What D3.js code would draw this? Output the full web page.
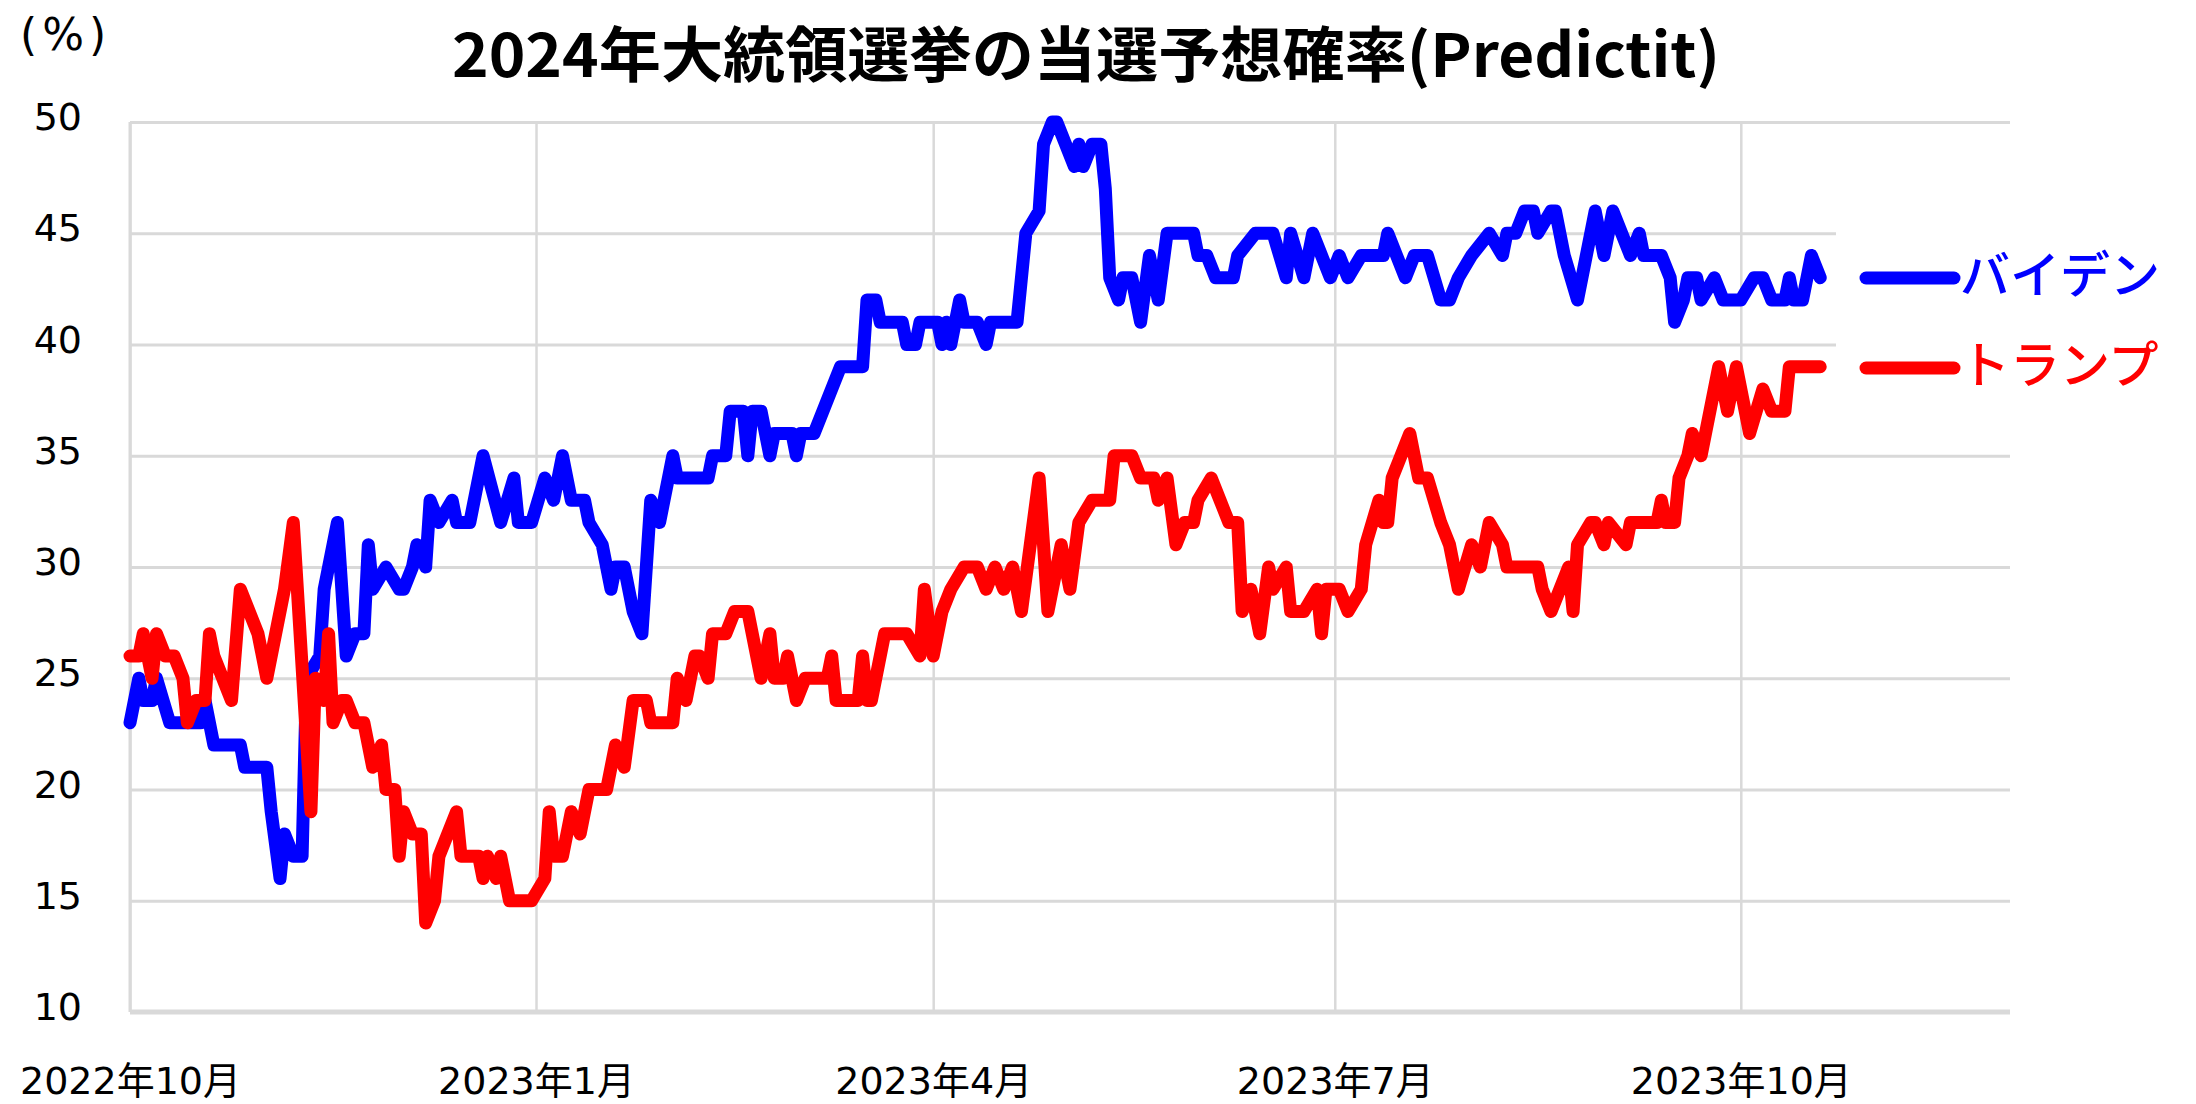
<!DOCTYPE html>
<html><head><meta charset="utf-8">
<script src="https://cdn.jsdelivr.net/npm/d3@7/dist/d3.min.js"></script>
<style>html,body{margin:0;padding:0;background:#fff;}svg{display:block;}</style>
</head><body>
<svg id="c" width="2196" height="1104"></svg>
<script>
const titleText = "2024年大統領選挙の当選予想確率(Predictit)";
const unitLabel = "(%)";
const seriesNames = ["バイデン", "トランプ"];
const seriesColors = ["#0000FF", "#FF0000"];
const yTicks = [10, 15, 20, 25, 30, 35, 40, 45, 50];
const xTickDates = ["2022-10-01", "2023-01-01", "2023-04-01", "2023-07-01", "2023-10-01"];
const xTickLabels = ["2022年10月", "2023年1月", "2023年4月", "2023年7月", "2023年10月"];

const bidenDates = ["2022-10-01","2022-10-03","2022-10-04","2022-10-06","2022-10-07","2022-10-10","2022-10-17","2022-10-18","2022-10-20","2022-10-26","2022-10-27","2022-11-01","2022-11-02","2022-11-04","2022-11-05","2022-11-07","2022-11-09","2022-11-10","2022-11-13","2022-11-14","2022-11-17","2022-11-19","2022-11-21","2022-11-23","2022-11-24","2022-11-25","2022-11-28","2022-12-01","2022-12-02","2022-12-04","2022-12-05","2022-12-07","2022-12-08","2022-12-10","2022-12-13","2022-12-14","2022-12-17","2022-12-20","2022-12-24","2022-12-27","2022-12-28","2022-12-31","2023-01-03","2023-01-05","2023-01-07","2023-01-09","2023-01-12","2023-01-13","2023-01-16","2023-01-18","2023-01-19","2023-01-21","2023-01-23","2023-01-25","2023-01-27","2023-01-29","2023-02-01","2023-02-02","2023-02-09","2023-02-10","2023-02-13","2023-02-14","2023-02-17","2023-02-18","2023-02-19","2023-02-21","2023-02-23","2023-02-24","2023-02-28","2023-03-01","2023-03-02","2023-03-05","2023-03-07","2023-03-09","2023-03-11","2023-03-16","2023-03-17","2023-03-19","2023-03-20","2023-03-25","2023-03-26","2023-03-28","2023-03-29","2023-04-02","2023-04-03","2023-04-04","2023-04-05","2023-04-07","2023-04-08","2023-04-11","2023-04-13","2023-04-14","2023-04-20","2023-04-22","2023-04-25","2023-04-26","2023-04-28","2023-04-29","2023-05-03","2023-05-04","2023-05-05","2023-05-07","2023-05-09","2023-05-10","2023-05-11","2023-05-13","2023-05-14","2023-05-16","2023-05-18","2023-05-20","2023-05-21","2023-05-22","2023-05-24","2023-05-30","2023-05-31","2023-06-02","2023-06-04","2023-06-08","2023-06-09","2023-06-13","2023-06-17","2023-06-20","2023-06-21","2023-06-24","2023-06-26","2023-06-28","2023-06-30","2023-07-02","2023-07-04","2023-07-07","2023-07-12","2023-07-13","2023-07-17","2023-07-19","2023-07-22","2023-07-25","2023-07-27","2023-07-29","2023-08-01","2023-08-05","2023-08-08","2023-08-09","2023-08-11","2023-08-13","2023-08-15","2023-08-16","2023-08-19","2023-08-20","2023-08-22","2023-08-25","2023-08-27","2023-08-29","2023-08-31","2023-09-02","2023-09-04","2023-09-06","2023-09-08","2023-09-09","2023-09-13","2023-09-15","2023-09-16","2023-09-18","2023-09-19","2023-09-21","2023-09-22","2023-09-25","2023-09-27","2023-10-01","2023-10-04","2023-10-06","2023-10-08","2023-10-11","2023-10-12","2023-10-13","2023-10-15","2023-10-17","2023-10-19"];
const bidenValues = [23,25,24,24,25,23,23,24,22,22,21,21,19,16,18,17,17,25,26,29,32,26,27,27,31,29,30,29,29,30,31,30,33,32,33,32,32,35,32,34,32,32,34,33,35,33,33,32,31,29,30,30,28,27,33,32,35,34,34,35,35,37,37,35,37,37,35,36,36,35,36,36,37,38,39,39,42,42,41,41,40,40,41,41,40,41,40,42,41,41,40,41,41,45,46,49,50,50,48,49,48,49,49,47,43,42,43,43,41,44,43,42,45,45,44,44,43,43,44,45,45,43,45,43,45,44,43,44,43,44,44,45,43,44,44,42,42,43,44,45,44,45,45,46,46,45,46,46,44,42,44,46,44,46,45,44,45,44,44,43,41,42,43,43,42,43,42,42,43,43,42,42,43,42,42,44,43];

const trumpDates = ["2022-10-01","2022-10-03","2022-10-04","2022-10-06","2022-10-07","2022-10-09","2022-10-11","2022-10-13","2022-10-14","2022-10-16","2022-10-18","2022-10-19","2022-10-20","2022-10-22","2022-10-24","2022-10-26","2022-10-28","2022-10-30","2022-11-01","2022-11-03","2022-11-05","2022-11-07","2022-11-11","2022-11-12","2022-11-14","2022-11-15","2022-11-16","2022-11-18","2022-11-19","2022-11-21","2022-11-23","2022-11-24","2022-11-25","2022-11-27","2022-11-28","2022-11-30","2022-12-01","2022-12-02","2022-12-04","2022-12-06","2022-12-07","2022-12-09","2022-12-10","2022-12-12","2022-12-14","2022-12-15","2022-12-19","2022-12-20","2022-12-21","2022-12-23","2022-12-24","2022-12-26","2022-12-31","2023-01-03","2023-01-04","2023-01-05","2023-01-07","2023-01-09","2023-01-11","2023-01-13","2023-01-17","2023-01-19","2023-01-21","2023-01-23","2023-01-26","2023-01-27","2023-02-01","2023-02-02","2023-02-04","2023-02-06","2023-02-07","2023-02-09","2023-02-10","2023-02-13","2023-02-15","2023-02-18","2023-02-21","2023-02-23","2023-02-24","2023-02-26","2023-02-27","2023-03-01","2023-03-03","2023-03-08","2023-03-09","2023-03-10","2023-03-15","2023-03-16","2023-03-17","2023-03-18","2023-03-21","2023-03-26","2023-03-29","2023-03-30","2023-04-01","2023-04-03","2023-04-05","2023-04-08","2023-04-11","2023-04-13","2023-04-15","2023-04-17","2023-04-19","2023-04-21","2023-04-25","2023-04-27","2023-04-30","2023-05-02","2023-05-04","2023-05-07","2023-05-11","2023-05-12","2023-05-16","2023-05-18","2023-05-21","2023-05-22","2023-05-24","2023-05-26","2023-05-28","2023-05-30","2023-05-31","2023-06-03","2023-06-05","2023-06-07","2023-06-09","2023-06-10","2023-06-12","2023-06-14","2023-06-16","2023-06-17","2023-06-20","2023-06-21","2023-06-24","2023-06-27","2023-06-28","2023-06-29","2023-07-02","2023-07-04","2023-07-07","2023-07-08","2023-07-11","2023-07-12","2023-07-13","2023-07-14","2023-07-16","2023-07-18","2023-07-20","2023-07-22","2023-07-25","2023-07-27","2023-07-29","2023-08-01","2023-08-03","2023-08-05","2023-08-08","2023-08-09","2023-08-16","2023-08-17","2023-08-19","2023-08-21","2023-08-23","2023-08-24","2023-08-25","2023-08-28","2023-08-29","2023-08-31","2023-09-01","2023-09-05","2023-09-06","2023-09-12","2023-09-13","2023-09-14","2023-09-16","2023-09-17","2023-09-19","2023-09-20","2023-09-22","2023-09-23","2023-09-26","2023-09-28","2023-09-30","2023-10-03","2023-10-06","2023-10-08","2023-10-11","2023-10-12","2023-10-19"];
const trumpValues = [26,26,27,25,27,26,26,25,23,24,24,27,26,25,24,29,28,27,25,27,29,32,19,25,24,27,23,24,24,23,23,22,21,22,20,20,17,19,18,18,14,15,17,18,19,17,17,16,17,16,17,15,15,16,19,17,17,19,18,20,20,22,21,24,24,23,23,25,24,26,26,25,27,27,28,28,25,27,25,25,26,24,25,25,26,24,24,26,24,24,27,27,26,29,26,28,29,30,30,29,30,29,30,28,34,28,31,29,32,33,33,35,35,34,34,33,34,31,32,32,33,34,33,32,32,28,29,27,30,29,30,28,28,29,27,29,29,28,29,31,33,32,32,34,35,36,34,34,32,31,29,31,30,32,31,30,30,29,28,29,30,28,31,32,32,31,32,31,32,32,33,32,32,34,35,36,35,36,39,37,39,36,38,37,37,39,39];

const parse = d3.timeParse("%Y-%m-%d");
const svg = d3.select("#c");
const L = 130, R = 2010, T = 122, B = 1012;
const x = d3.scaleTime().domain([parse("2022-10-01"), parse("2023-12-01")]).range([L, R]);
const y = d3.scaleLinear().domain([10, 50]).range([B, T]);
const grid = "#D9D9D9";
const tickFont = "'DejaVu Sans','Noto Sans CJK JP',sans-serif";

// horizontal gridlines
const yAxis = d3.axisLeft(y).tickValues(yTicks).tickSize(-(R - L)).tickFormat(d => d).tickPadding(48);
const gy = svg.append("g").attr("transform", `translate(${L},0)`).call(yAxis);
gy.select(".domain").remove();
gy.selectAll(".tick line").attr("stroke", grid).attr("stroke-width", 3);
gy.selectAll(".tick text").attr("fill", "#000").attr("font-family", tickFont).attr("font-size", 38)
  .attr("dy", "0.2em").attr("text-anchor", "end");

// vertical gridlines + labels
const xAxis = d3.axisBottom(x).tickValues(xTickDates.map(parse)).tickSize(-(B - T))
  .tickFormat((d, i) => xTickLabels[i]).tickPadding(0);
const gx = svg.append("g").attr("transform", `translate(0,${B})`).call(xAxis);
gx.select(".domain").remove();
gx.selectAll(".tick line").attr("stroke", grid).attr("stroke-width", 2.5);
gx.selectAll(".tick text").attr("fill", "#000").attr("font-family", tickFont).attr("font-size", 38)
  .attr("y", 82).attr("dy", 0);

// axis lines
svg.append("line").attr("x1", L).attr("x2", R).attr("y1", y(10)).attr("y2", y(10))
  .attr("stroke", grid).attr("stroke-width", 5);
svg.append("line").attr("x1", L).attr("x2", L).attr("y1", T).attr("y2", B)
  .attr("stroke", grid).attr("stroke-width", 3);

// legend background (covers gridlines)
svg.append("rect").attr("x", 1836).attr("y", 190).attr("width", 360).attr("height", 220).attr("fill", "#fff");

const line = d3.line().x(d => x(d.date)).y(d => y(d.value)).curve(d3.curveLinear);
const series = [
  bidenDates.map((d, i) => ({date: parse(d), value: bidenValues[i]})),
  trumpDates.map((d, i) => ({date: parse(d), value: trumpValues[i]}))
];
series.forEach((s, i) => {
  svg.append("path").datum(s).attr("d", line).attr("fill", "none")
    .attr("stroke", seriesColors[i]).attr("stroke-width", 13)
    .attr("stroke-linejoin", "round").attr("stroke-linecap", "round");
});

// legend
const legY = [278, 368];
const legTextY = [271, 361];
seriesNames.forEach((n, i) => {
  svg.append("line").attr("x1", 1866).attr("x2", 1954).attr("y1", legY[i]).attr("y2", legY[i])
    .attr("stroke", seriesColors[i]).attr("stroke-width", 13).attr("stroke-linecap", "round");
  svg.append("text").attr("x", 1960).attr("y", legTextY[i]).attr("dominant-baseline", "central")
    .attr("font-family", "'Noto Sans CJK JP',sans-serif").attr("font-size", 50).attr("font-weight", 500)
    .attr("fill", seriesColors[i]).text(n);
});

// title
const t = svg.append("text").attr("x", 1086).attr("y", 77).attr("text-anchor", "middle")
  .attr("font-family", "'Noto Sans CJK JP',sans-serif").attr("font-weight", "bold")
  .attr("font-size", 60).attr("fill", "#000").text(titleText);
const tw = t.node().getComputedTextLength();
if (Math.abs(tw - 1268) / 1268 < 0.15) t.attr("textLength", 1268).attr("lengthAdjust", "spacingAndGlyphs");

// unit label
svg.append("text").attr("x", 20).attr("y", 50).attr("font-family", tickFont).attr("font-size", 44)
  .attr("letter-spacing", 5).attr("fill", "#000").text(unitLabel);
</script>
</body></html>
